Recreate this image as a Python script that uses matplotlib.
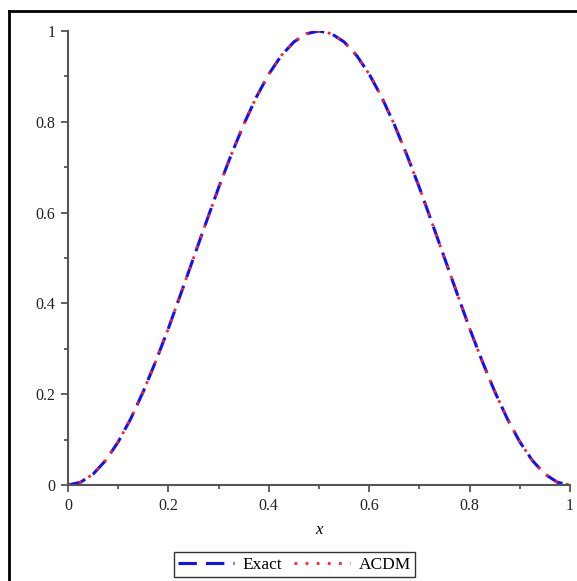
import matplotlib
matplotlib.use("Agg")
import matplotlib.pyplot as plt
from matplotlib.lines import Line2D
from matplotlib.ticker import MultipleLocator

# values
x_vals = [0.0, 0.025, 0.05, 0.075, 0.1, 0.125, 0.15, 0.175, 0.2, 0.225,
          0.25, 0.275, 0.3, 0.325, 0.35, 0.375, 0.4, 0.425, 0.45, 0.475,
          0.5, 0.525, 0.55, 0.575, 0.6, 0.625, 0.65, 0.675, 0.7, 0.725,
          0.75, 0.775, 0.8, 0.825, 0.85, 0.875, 0.9, 0.925, 0.95, 0.975, 1.0]
exact = [0.0, 0.006, 0.024, 0.054, 0.095, 0.146, 0.206, 0.273, 0.345, 0.422,
         0.5, 0.578, 0.655, 0.727, 0.794, 0.854, 0.905, 0.946, 0.976, 0.994,
         1.0, 0.994, 0.976, 0.946, 0.905, 0.854, 0.794, 0.727, 0.655, 0.578,
         0.5, 0.422, 0.345, 0.273, 0.206, 0.146, 0.095, 0.054, 0.024, 0.006, 0.0]
acdm = [0.0, 0.006, 0.024, 0.054, 0.095, 0.146, 0.206, 0.273, 0.345, 0.422,
        0.5, 0.578, 0.655, 0.727, 0.794, 0.854, 0.905, 0.946, 0.976, 0.994,
        1.0, 0.994, 0.976, 0.946, 0.905, 0.854, 0.794, 0.727, 0.655, 0.578,
        0.5, 0.422, 0.345, 0.273, 0.206, 0.146, 0.095, 0.054, 0.024, 0.006, 0.0]
x_ticks = [0, 0.2, 0.4, 0.6, 0.8, 1]
x_ticklabels = ["0", "0.2", "0.4", "0.6", "0.8", "1"]
y_ticks = [0, 0.2, 0.4, 0.6, 0.8, 1]
y_ticklabels = ["0", "0.2", "0.4", "0.6", "0.8", "1"]

plt.rcParams["font.family"] = ["Liberation Serif", "DejaVu Serif"]

W, H = 577, 581
fig = plt.figure(figsize=(W / 100, H / 100), dpi=100)
ax = fig.add_axes([68 / W, 1 - 485 / H, (570 - 68) / W, (485 - 31) / H])

ax.plot(x_vals, exact, color="#1010ff", lw=2.2, dashes=(6, 3), label="Exact")
ax.plot(x_vals, acdm, color="#ff2020", lw=2.0, dashes=(1, 3), label="ACDM")

ax.set_xlim(0, 1)
ax.set_ylim(0, 1)
ax.set_xticks(x_ticks)
ax.set_xticklabels(x_ticklabels)
ax.set_yticks(y_ticks)
ax.set_yticklabels(y_ticklabels)
ax.xaxis.set_minor_locator(MultipleLocator(0.1))
ax.yaxis.set_minor_locator(MultipleLocator(0.1))

for s in ["top", "right"]:
    ax.spines[s].set_visible(False)
for s in ["left", "bottom"]:
    ax.spines[s].set_color("#555555")
    ax.spines[s].set_linewidth(1.5)

ax.tick_params(which="major", length=5, width=1.3, color="#555555",
               labelsize=11.5, labelcolor="#222222", pad=4)
ax.tick_params(which="minor", length=3, width=1.3, color="#555555")

ax.set_xlabel("x", style="italic", fontsize=12, labelpad=6)

fig.legend(loc="lower center", bbox_to_anchor=(294.5 / W, 4 / H), ncol=2,
           fontsize=12.5, frameon=True, fancybox=False, edgecolor="black",
           handlelength=3.2, columnspacing=0.7, handletextpad=0.5,
           borderpad=0.25, borderaxespad=0)

# outer frame of the screenshot (top and left edges)
fig.add_artist(Line2D([8.5 / W, 1], [1 - 10.5 / H, 1 - 10.5 / H],
                      transform=fig.transFigure, color="black", lw=2))
fig.add_artist(Line2D([8.5 / W, 8.5 / W], [0, 1 - 10.5 / H],
                      transform=fig.transFigure, color="black", lw=2))

fig.savefig("out.png", dpi=100)
